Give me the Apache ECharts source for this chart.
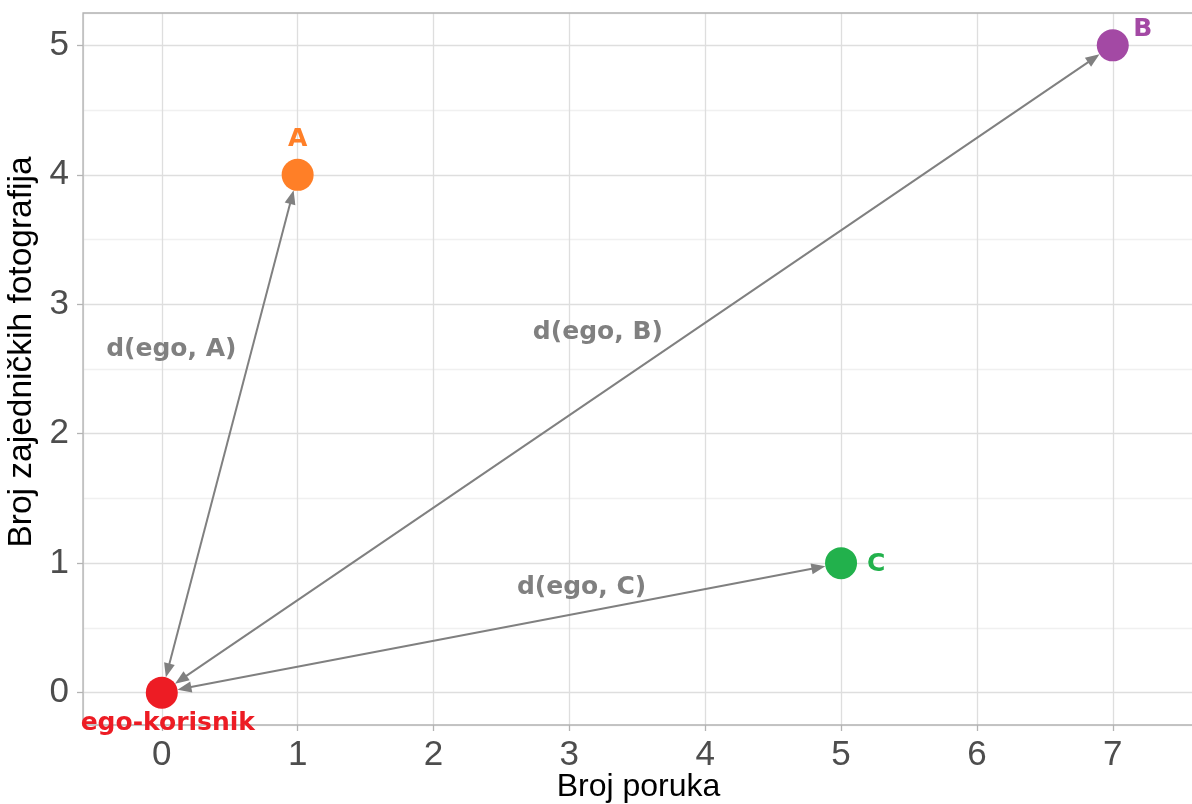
<!DOCTYPE html>
<html>
<head>
<meta charset="utf-8">
<title>ego-korisnik</title>
<script src="https://cdn.jsdelivr.net/npm/echarts@6/dist/echarts.min.js"></script>
<style>
    html, body {
        margin: 0;
        padding: 0;
        background: #fff;
    }
    #chart {
        width: 1192px;
        height: 804px;
    }
</style>
</head>
<body>
<div id="chart"></div>
<script>
// korisnici: ego + tri kontakta
const names = ['ego-korisnik', 'A', 'B', 'C'];
const poruke = [0, 1, 7, 5];
const fotografije = [0, 4, 5, 1];

// oznake udaljenosti (pozicija teksta u koordinatama podataka)
const distLabels = ['d(ego, A)', 'd(ego, B)', 'd(ego, C)'];
const distX = [0.07, 3.21, 3.09];
const distY = [2.65, 2.785, 0.816];

const xTicks = [0, 1, 2, 3, 4, 5, 6, 7];
const yTicks = [0, 1, 2, 3, 4, 5];

// stil
const colors = ['#ED1C24', '#FF7F27', '#A349A4', '#22B14C'];
const labelOffsets = [[6, 31], [0, -35], [30, -16], [35, 1]];
const pointSize = 32;
const arrowGray = '#808080';

const X_MIN = -0.58;
const X_MAX = 7.598;
const Y_MIN = -0.25;
const Y_MAX = 5.25;

const chart = echarts.init(document.getElementById('chart'));

const points = names.map((name, i) => ({
    name,
    value: [poruke[i], fotografije[i]],
    itemStyle: { color: colors[i], opacity: 1 },
    label: { color: colors[i], offset: labelOffsets[i] }
}));

// strelice od ego-korisnika do ostalih
const arrows = [];
for (let i = 1; i < names.length; i++) {
    arrows.push([poruke[0], fotografije[0], poruke[i], fotografije[i]]);
}

function renderArrow(params, api) {
    const p0 = api.coord([api.value(0), api.value(1)]);
    const p1 = api.coord([api.value(2), api.value(3)]);
    const dx = p1[0] - p0[0];
    const dy = p1[1] - p0[1];
    const len = Math.sqrt(dx * dx + dy * dy);
    const ux = dx / len;
    const uy = dy / len;
    const gap = pointSize / 2;
    const s = [p0[0] + ux * gap, p0[1] + uy * gap];
    const e = [p1[0] - ux * gap, p1[1] - uy * gap];
    const headLen = 14;
    const headW = 5.5;

    const head = (tip, dirx, diry) => {
        const bx = tip[0] - dirx * headLen;
        const by = tip[1] - diry * headLen;
        return [
            tip,
            [bx - diry * headW, by + dirx * headW],
            [bx + diry * headW, by - dirx * headW]
        ];
    };

    return {
        type: 'group',
        children: [
            {
                type: 'line',
                shape: {
                    x1: s[0] + ux * headLen * 0.5,
                    y1: s[1] + uy * headLen * 0.5,
                    x2: e[0] - ux * headLen * 0.5,
                    y2: e[1] - uy * headLen * 0.5
                },
                style: { stroke: arrowGray, lineWidth: 2 }
            },
            {
                type: 'polygon',
                shape: { points: head(e, ux, uy) },
                style: { fill: arrowGray }
            },
            {
                type: 'polygon',
                shape: { points: head(s, -ux, -uy) },
                style: { fill: arrowGray }
            }
        ]
    };
}

const tickText = {
    fontFamily: 'Liberation Sans, Arial, sans-serif',
    fontSize: 35,
    color: '#4d4d4d'
};

chart.setOption({
    animation: false,
    grid: {
        left: 83,
        top: 13,
        right: -2,
        bottom: 79,
        outerBoundsMode: 'none',
        containLabel: false,
        show: true,
        borderColor: '#b3b3b3',
        borderWidth: 1.3,
        z: 3
    },
    xAxis: [
        {
            type: 'value',
            min: X_MIN,
            max: X_MAX,
            splitNumber: 8,
            name: 'Broj poruka',
            nameLocation: 'middle',
            nameGap: 46,
            nameMoveOverlap: false,
            nameTextStyle: {
                fontFamily: 'Liberation Sans, Arial, sans-serif',
                fontSize: 32,
                color: '#000'
            },
            axisLine: { show: false, onZero: false },
            axisTick: {
                show: true,
                length: 6,
                customValues: xTicks,
                lineStyle: { color: '#b3b3b3', width: 1.3 }
            },
            axisLabel: Object.assign({
                margin: 13,
                customValues: xTicks,
                formatter: v => String(v)
            }, tickText),
            splitLine: { show: false }
        },
        {
            type: 'value',
            min: X_MIN,
            max: X_MAX,
            splitNumber: 8,
            axisLine: { show: false, onZero: false },
            axisTick: { show: false },
            axisLabel: { show: false },
            splitLine: { show: true, lineStyle: { color: '#dedede', width: 1.3 } }
        }
    ],
    yAxis: [
        {
            type: 'value',
            min: Y_MIN,
            max: Y_MAX,
            splitNumber: 6,
            name: 'Broj zajedničkih fotografija',
            nameLocation: 'middle',
            nameGap: 40,
            nameTextStyle: {
                fontFamily: 'Liberation Sans, Arial, sans-serif',
                fontSize: 33.5,
                color: '#000',
                padding: [0, 0, 0, 34]
            },
            axisLine: { show: false, onZero: false },
            axisTick: {
                show: true,
                length: 6,
                customValues: yTicks,
                lineStyle: { color: '#b3b3b3', width: 1.3 }
            },
            axisLabel: Object.assign({
                margin: 14,
                customValues: yTicks,
                formatter: v => String(v)
            }, tickText),
            splitLine: { show: false }
        },
        {
            type: 'value',
            min: Y_MIN,
            max: Y_MAX,
            splitNumber: 11,
            axisLine: { show: false, onZero: false },
            axisTick: { show: false },
            axisLabel: { show: false },
            splitLine: {
                show: true,
                lineStyle: { color: ['#f0f0f0', '#dedede'], width: 1.3 }
            }
        }
    ],
    series: [
        {
            name: 'udaljenost',
            type: 'custom',
            xAxisIndex: 0,
            yAxisIndex: 0,
            renderItem: renderArrow,
            encode: { x: [0, 2], y: [1, 3] },
            data: arrows,
            silent: true,
            z: 4
        },
        {
            name: 'korisnici',
            type: 'scatter',
            xAxisIndex: 0,
            yAxisIndex: 0,
            symbolSize: pointSize,
            data: points,
            label: {
                show: true,
                position: 'inside',
                formatter: p => p.name,
                fontFamily: 'DejaVu Sans, Verdana, sans-serif',
                fontWeight: 'bold',
                fontSize: 25
            },
            z: 5
        },
        {
            name: 'oznake',
            type: 'scatter',
            xAxisIndex: 0,
            yAxisIndex: 0,
            symbolSize: 1,
            itemStyle: { color: 'rgba(0,0,0,0)', opacity: 1 },
            data: distLabels.map((t, i) => ({ name: t, value: [distX[i], distY[i]] })),
            label: {
                show: true,
                position: 'inside',
                formatter: p => p.name,
                fontFamily: 'DejaVu Sans, Verdana, sans-serif',
                fontWeight: 'bold',
                fontSize: 25,
                color: '#808080',
                opacity: 1
            },
            z: 5
        }
    ]
});
</script>
</body>
</html>
